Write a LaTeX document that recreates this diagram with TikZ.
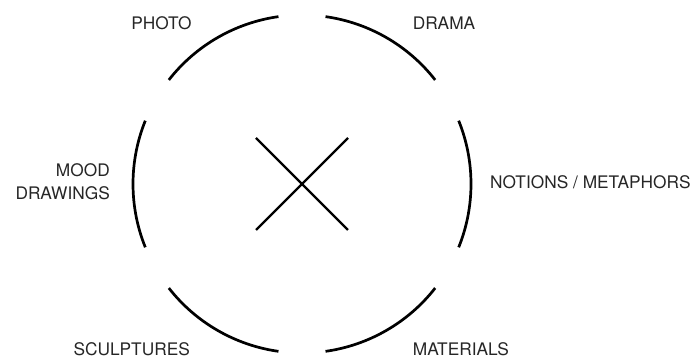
\documentclass[tikz,border=0pt]{standalone}
\usepackage{fontspec}
\setmainfont{TeX Gyre Heros}
\usetikzlibrary{positioning}

\tikzset{
    ring/.style={line width=2.7pt, black},
    label/.style={inner sep=0pt, text=black!85, font=\fontsize{17.3}{23}\selectfont}
}

\begin{document}
\begin{tikzpicture}[x=1pt, y=1pt]
    \useasboundingbox (0,0) rectangle (697,358);
    \coordinate (ctr) at (302,174);

    % broken ring: six arcs
    \foreach \a in {0,60,...,300} {
        \draw[ring] ([shift={(\a-22:169)}]ctr) arc[start angle=\a-22, end angle=\a+22, radius=169];
    }

    % cross in the middle
    \draw[line width=2.3pt] ([shift={(-46,46)}]ctr) -- ([shift={(46,-46)}]ctr);
    \draw[line width=2.3pt] ([shift={(-46,-46)}]ctr) -- ([shift={(46,46)}]ctr);

    % labels
    \node[label, anchor=base] (photo) at (161.5,328) {PHOTO};
    \node[label, anchor=base] (drama) at (444,328) {DRAMA};
    \node[label, anchor=east, align=right] (mood) at (110,176) {MOOD\\DRAWINGS};
    \node[label, anchor=base west] (notions) at (490,169) {NOTIONS / METAPHORS};
    \node[label, anchor=base] (sculptures) at (131.7,2.5) {SCULPTURES};
    \node[label, anchor=base west] (materials) at (412.7,2.5) {MATERIALS};
\end{tikzpicture}
\end{document}
